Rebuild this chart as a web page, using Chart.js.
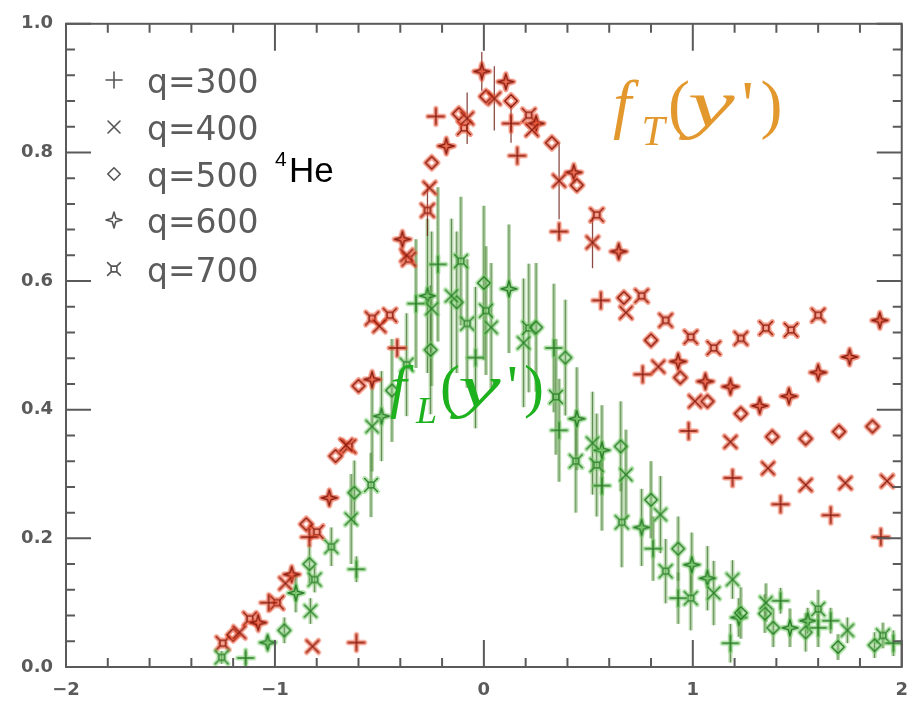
<!DOCTYPE html>
<html>
<head>
<meta charset="utf-8">
<script src="https://cdn.jsdelivr.net/npm/chart.js@4/dist/chart.umd.min.js"></script>
<style>
  html, body { margin: 0; padding: 0; background: #fff; }
  #wrap { width: 921px; height: 701px; }
</style>
</head>
<body>
<div id="wrap"><canvas id="chart" width="921" height="701"></canvas></div>
<script>
// scaling functions, [y', f, error] per point
const t300 = [[-1.03,0.100],[-0.835,0.202],[-0.61,0.038],[-0.415,0.496],[-0.23,0.856],[0.13,0.845,0.03],[0.16,0.795],[0.36,0.677],[0.56,0.570],[0.76,0.455],[0.98,0.367],[1.19,0.294],[1.42,0.253],[1.66,0.236],[1.90,0.202]];
const t400 = [[-1.17,0.054],[-0.95,0.130],[-0.82,0.032],[-0.66,0.345],[-0.50,0.530],[-0.37,0.640],[-0.26,0.745],[-0.08,0.853,0.04],[0.05,0.884,0.05],[0.23,0.835],[0.36,0.756,0.06],[0.52,0.660,0.04],[0.68,0.551],[0.835,0.467],[1.01,0.413],[1.18,0.350],[1.36,0.309],[1.54,0.283],[1.73,0.286],[1.93,0.289]];
const t500 = [[-1.20,0.050],[-0.85,0.222],[-0.71,0.328],[-0.60,0.437],[-0.25,0.784],[-0.12,0.860],[0.01,0.887],[0.13,0.880],[0.325,0.815],[0.445,0.749],[0.67,0.574],[0.80,0.508],[0.94,0.450],[1.07,0.413],[1.23,0.394],[1.38,0.358],[1.54,0.355],[1.70,0.366],[1.86,0.374]];
const t600 = [[-1.08,0.069],[-0.92,0.144],[-0.74,0.263],[-0.535,0.447],[-0.39,0.665],[-0.18,0.810],[-0.01,0.926,0.03],[0.105,0.910],[0.25,0.845],[0.43,0.769],[0.645,0.646],[0.93,0.475],[1.06,0.444],[1.18,0.436],[1.32,0.406],[1.46,0.421],[1.60,0.458],[1.75,0.482],[1.895,0.539]];
const t700 = [[-1.25,0.037],[-1.12,0.075],[-0.99,0.100],[-0.80,0.210],[-0.645,0.343],[-0.535,0.542],[-0.45,0.547],[-0.36,0.634],[-0.27,0.710,0.04],[-0.095,0.838],[0.215,0.858],[0.54,0.703],[0.755,0.577],[0.87,0.539],[0.99,0.513],[1.10,0.496],[1.23,0.511],[1.35,0.527],[1.47,0.524],[1.60,0.547]];

const l300 = [[-1.14,0.014,0.01],[-0.61,0.152,0.02],[-0.325,0.565,0.10],[-0.22,0.626,0.12],[-0.04,0.481,0.11],[0.335,0.496,0.10],[0.36,0.368,0.08],[0.565,0.282,0.07],[0.81,0.184,0.05],[0.93,0.107,0.04],[1.18,0.037,0.03],[1.42,0.103,0.02],[1.60,0.061,0.03],[1.66,0.072,0.02],[1.96,0.037,0.02]];
const l400 = [[-0.83,0.087,0.02],[-0.635,0.230,0.07],[-0.535,0.374,0.07],[-0.25,0.557,0.12],[-0.155,0.577,0.12],[0.035,0.528,0.10],[0.19,0.504,0.10],[0.52,0.348,0.08],[0.68,0.299,0.07],[0.845,0.237,0.06],[1.10,0.115,0.05],[1.19,0.136,0.03],[1.35,0.100,0.03],[1.74,0.057,0.02]];
const l500 = [[-0.955,0.057,0.02],[-0.835,0.160,0.03],[-0.62,0.271,0.05],[-0.44,0.430,0.08],[-0.255,0.493,0.10],[-0.13,0.567,0.11],[0.00,0.597,0.12],[0.25,0.528,0.10],[0.39,0.481,0.09],[0.655,0.343,0.07],[0.80,0.260,0.06],[0.93,0.184,0.05],[1.23,0.084,0.04],[1.345,0.083,0.03],[1.385,0.061,0.03],[1.54,0.054,0.03],[1.695,0.031,0.02],[1.87,0.034,0.02]];
const l600 = [[-1.035,0.038,0.01],[-0.90,0.115,0.03],[-0.49,0.390,0.07],[-0.27,0.577,0.12],[0.12,0.588,0.10],[0.445,0.386,0.08],[0.565,0.337,0.07],[0.755,0.217,0.06],[0.995,0.159,0.05],[1.07,0.138,0.05],[1.22,0.077,0.03],[1.465,0.061,0.03],[1.55,0.072,0.02]];
const l700 = [[-1.255,0.015,0.01],[-0.81,0.136,0.02],[-0.73,0.187,0.03],[-0.54,0.283,0.05],[-0.37,0.470,0.08],[-0.11,0.631,0.10],[-0.08,0.534,0.10],[0.01,0.554,0.10],[0.215,0.527,0.10],[0.345,0.420,0.09],[0.44,0.320,0.08],[0.54,0.314,0.08],[0.66,0.225,0.07],[0.87,0.149,0.05],[0.99,0.107,0.05],[1.60,0.090,0.03],[1.91,0.049,0.02]];

const qLabels = ['q=300', 'q=400', 'q=500', 'q=600', 'q=700'];
const symbolKinds = ['plus', 'cross', 'diamond', 'sparkle', 'boxcross'];
const xTicks = [-2, -1, 0, 1, 2];
const yTicks = [0, 0.2, 0.4, 0.6, 0.8, 1.0];

const transverse = [t300, t400, t500, t600, t700];
const longitudinal = [l300, l400, l500, l600, l700];

function shapePath(ctx, kind, r) {
  ctx.beginPath();
  if (kind === 'plus') {
    ctx.moveTo(-r, 0); ctx.lineTo(r, 0); ctx.moveTo(0, -r); ctx.lineTo(0, r);
  } else if (kind === 'cross') {
    const d = r * 0.75;
    ctx.moveTo(-d, -d); ctx.lineTo(d, d); ctx.moveTo(d, -d); ctx.lineTo(-d, d);
  } else if (kind === 'diamond') {
    const d = r * 0.78;
    ctx.moveTo(0, -d); ctx.lineTo(d, 0); ctx.lineTo(0, d); ctx.lineTo(-d, 0); ctx.closePath();
  } else if (kind === 'sparkle') {
    const i = r * 0.22;
    ctx.moveTo(0, -r); ctx.lineTo(i, -i); ctx.lineTo(r, 0); ctx.lineTo(i, i);
    ctx.lineTo(0, r); ctx.lineTo(-i, i); ctx.lineTo(-r, 0); ctx.lineTo(-i, -i); ctx.closePath();
  } else {
    const s = r * 0.36, d = r * 0.8;
    ctx.rect(-s, -s, 2 * s, 2 * s);
    ctx.moveTo(-d, -d); ctx.lineTo(-s, -s); ctx.moveTo(d, -d); ctx.lineTo(s, -s);
    ctx.moveTo(-d, d); ctx.lineTo(-s, s); ctx.moveTo(d, d); ctx.lineTo(s, s);
  }
}

function makeSymbol(kind, core, halo, r, width) {
  const c = document.createElement('canvas');
  c.width = c.height = 2 * r + 10;
  const ctx = c.getContext('2d');
  ctx.translate(c.width / 2, c.height / 2);
  ctx.lineCap = 'round';
  ctx.lineJoin = 'round';
  if (halo) {
    shapePath(ctx, kind, r);
    ctx.strokeStyle = halo;
    ctx.lineWidth = 5;
    ctx.stroke();
    if (kind === 'sparkle') { ctx.fillStyle = halo; ctx.fill(); }
  }
  shapePath(ctx, kind, r);
  ctx.strokeStyle = core;
  ctx.lineWidth = width;
  ctx.stroke();
  return c;
}

const redSymbols = symbolKinds.map(k => makeSymbol(k, '#8a1c10', 'rgba(236,84,52,0.62)', 8, 1.4));
const greenSymbols = symbolKinds.map(k => makeSymbol(k, '#2a7d2a', 'rgba(120,205,105,0.55)', 8, 1.4));
const legendSymbols = symbolKinds.map(k => makeSymbol(k, '#555', null, 8, 1.6));

const datasets = [];
longitudinal.forEach((pts, i) => datasets.push({
  label: 'L ' + qLabels[i], kind: 'L',
  data: pts.map(p => ({ x: p[0], y: p[1], err: p[2] || 0 })),
  pointStyle: greenSymbols[i], pointRadius: 8
}));
transverse.forEach((pts, i) => datasets.push({
  label: 'T ' + qLabels[i], kind: 'T',
  data: pts.map(p => ({ x: p[0], y: p[1], err: p[2] || 0 })),
  pointStyle: redSymbols[i], pointRadius: 8
}));

// vertical error bars behind the markers
const errorBars = {
  id: 'errorBars',
  beforeDatasetsDraw(chart) {
    const ctx = chart.ctx, ys = chart.scales.y;
    chart.data.datasets.forEach((ds, di) => {
      const meta = chart.getDatasetMeta(di);
      ds.data.forEach((p, j) => {
        if (!p.err) return;
        const x = meta.data[j].x;
        const y1 = ys.getPixelForValue(p.y + p.err), y2 = ys.getPixelForValue(p.y - p.err);
        ctx.save();
        if (ds.kind === 'L') {
          ctx.strokeStyle = 'rgba(120,180,95,0.5)'; ctx.lineWidth = 4;
          ctx.beginPath(); ctx.moveTo(x, y1); ctx.lineTo(x, y2); ctx.stroke();
          ctx.strokeStyle = 'rgba(60,105,50,0.7)'; ctx.lineWidth = 1;
        } else {
          ctx.strokeStyle = 'rgba(110,30,20,0.8)'; ctx.lineWidth = 1.3;
        }
        ctx.beginPath(); ctx.moveTo(x, y1); ctx.lineTo(x, y2); ctx.stroke();
        ctx.restore();
      });
    });
  }
};

// boxed frame with inward ticks, legend and annotations
const decorations = {
  id: 'decorations',
  afterDraw(chart) {
    const ctx = chart.ctx, xs = chart.scales.x, ys = chart.scales.y;
    const { left, right, top, bottom } = chart.chartArea;
    ctx.save();
    ctx.strokeStyle = '#5a5a5a';
    ctx.lineWidth = 2;
    ctx.strokeRect(left, top, right - left, bottom - top);
    ctx.beginPath();
    for (let v = -2; v <= 2.001; v += 0.2) {
      const px = xs.getPixelForValue(v);
      const len = Math.abs(v - Math.round(v)) < 1e-6 ? 27 : 9;
      ctx.moveTo(px, bottom); ctx.lineTo(px, bottom - len);
      ctx.moveTo(px, top); ctx.lineTo(px, top + len);
    }
    for (let v = 0; v <= 1.001; v += 0.04) {
      const py = ys.getPixelForValue(v);
      const major = Math.abs(v * 5 - Math.round(v * 5)) < 1e-6;
      const len = major ? 25 : 9;
      ctx.moveTo(left, py); ctx.lineTo(left + len, py);
      ctx.moveTo(right, py); ctx.lineTo(right - len, py);
    }
    ctx.stroke();

    // legend
    ctx.fillStyle = '#5c5c5c';
    ctx.font = '33px "DejaVu Sans"';
    ctx.textBaseline = 'alphabetic';
    const baselines = [93, 140, 187, 233, 282];
    qLabels.forEach((lab, i) => {
      const s = legendSymbols[i];
      ctx.drawImage(s, 114 - s.width / 2, baselines[i] - 13 - s.height / 2);
      ctx.fillText(lab, 147, baselines[i]);
    });

    // nucleus
    ctx.fillStyle = '#000';
    ctx.font = '21px "Liberation Sans"';
    ctx.fillText('4', 275, 166);
    ctx.font = '35px "Liberation Sans"';
    ctx.fillText('He', 289, 182);

    drawScaling(ctx, 'T', '#e3982e', 613, 126, 66);
    drawScaling(ctx, 'L', '#1db21d', 390, 406, 60);
    ctx.restore();
  }
};

function drawScaling(ctx, sub, color, x, base, size) {
  const k = size / 60;
  ctx.fillStyle = color;
  ctx.font = 'italic ' + size + 'px "Liberation Serif"';
  ctx.fillText('f', x, base);
  ctx.font = 'italic ' + Math.round(size * 0.63) + 'px "Liberation Serif"';
  ctx.fillText(sub, x + 26 * k, base + 17 * k);
  ctx.font = size + 'px "Liberation Serif"';
  ctx.fillText('(', x + 50 * k, base);
  ctx.save();
  ctx.translate(x + 68 * k, base);
  ctx.scale(1.6, 1);
  ctx.font = 'italic ' + size + 'px "Liberation Serif"';
  ctx.fillText('y', 0, 0);
  ctx.restore();
  ctx.font = size + 'px "Liberation Serif"';
  ctx.fillText("'", x + 117 * k, base);
  ctx.fillText(')', x + 134 * k, base);
}

const tickFont = { family: 'DejaVu Sans', size: 18, weight: 'bold' };

new Chart(document.getElementById('chart').getContext('2d'), {
  type: 'scatter',
  data: { datasets },
  options: {
    responsive: false,
    animation: false,
    devicePixelRatio: 1,
    layout: { padding: { top: 14, right: 17, left: 0, bottom: 0 } },
    plugins: { legend: { display: false }, tooltip: { enabled: false } },
    scales: {
      x: {
        type: 'linear', min: -2, max: 2,
        afterBuildTicks: s => { s.ticks = xTicks.map(v => ({ value: v })); },
        afterFit: s => { s.height = 34; },
        ticks: { callback: v => (v < 0 ? '\u2212' + Math.abs(v) : String(v)), font: tickFont, color: '#5a5a5a', padding: 13 },
        grid: { display: false, drawTicks: false },
        border: { display: false }
      },
      y: {
        type: 'linear', min: 0, max: 1,
        afterBuildTicks: s => { s.ticks = yTicks.map(v => ({ value: v })); },
        afterFit: s => { s.width = 66; },
        ticks: { callback: v => v.toFixed(1), font: tickFont, color: '#5a5a5a', padding: 13 },
        grid: { display: false, drawTicks: false },
        border: { display: false }
      }
    }
  },
  plugins: [errorBars, decorations]
});
</script>
</body>
</html>
